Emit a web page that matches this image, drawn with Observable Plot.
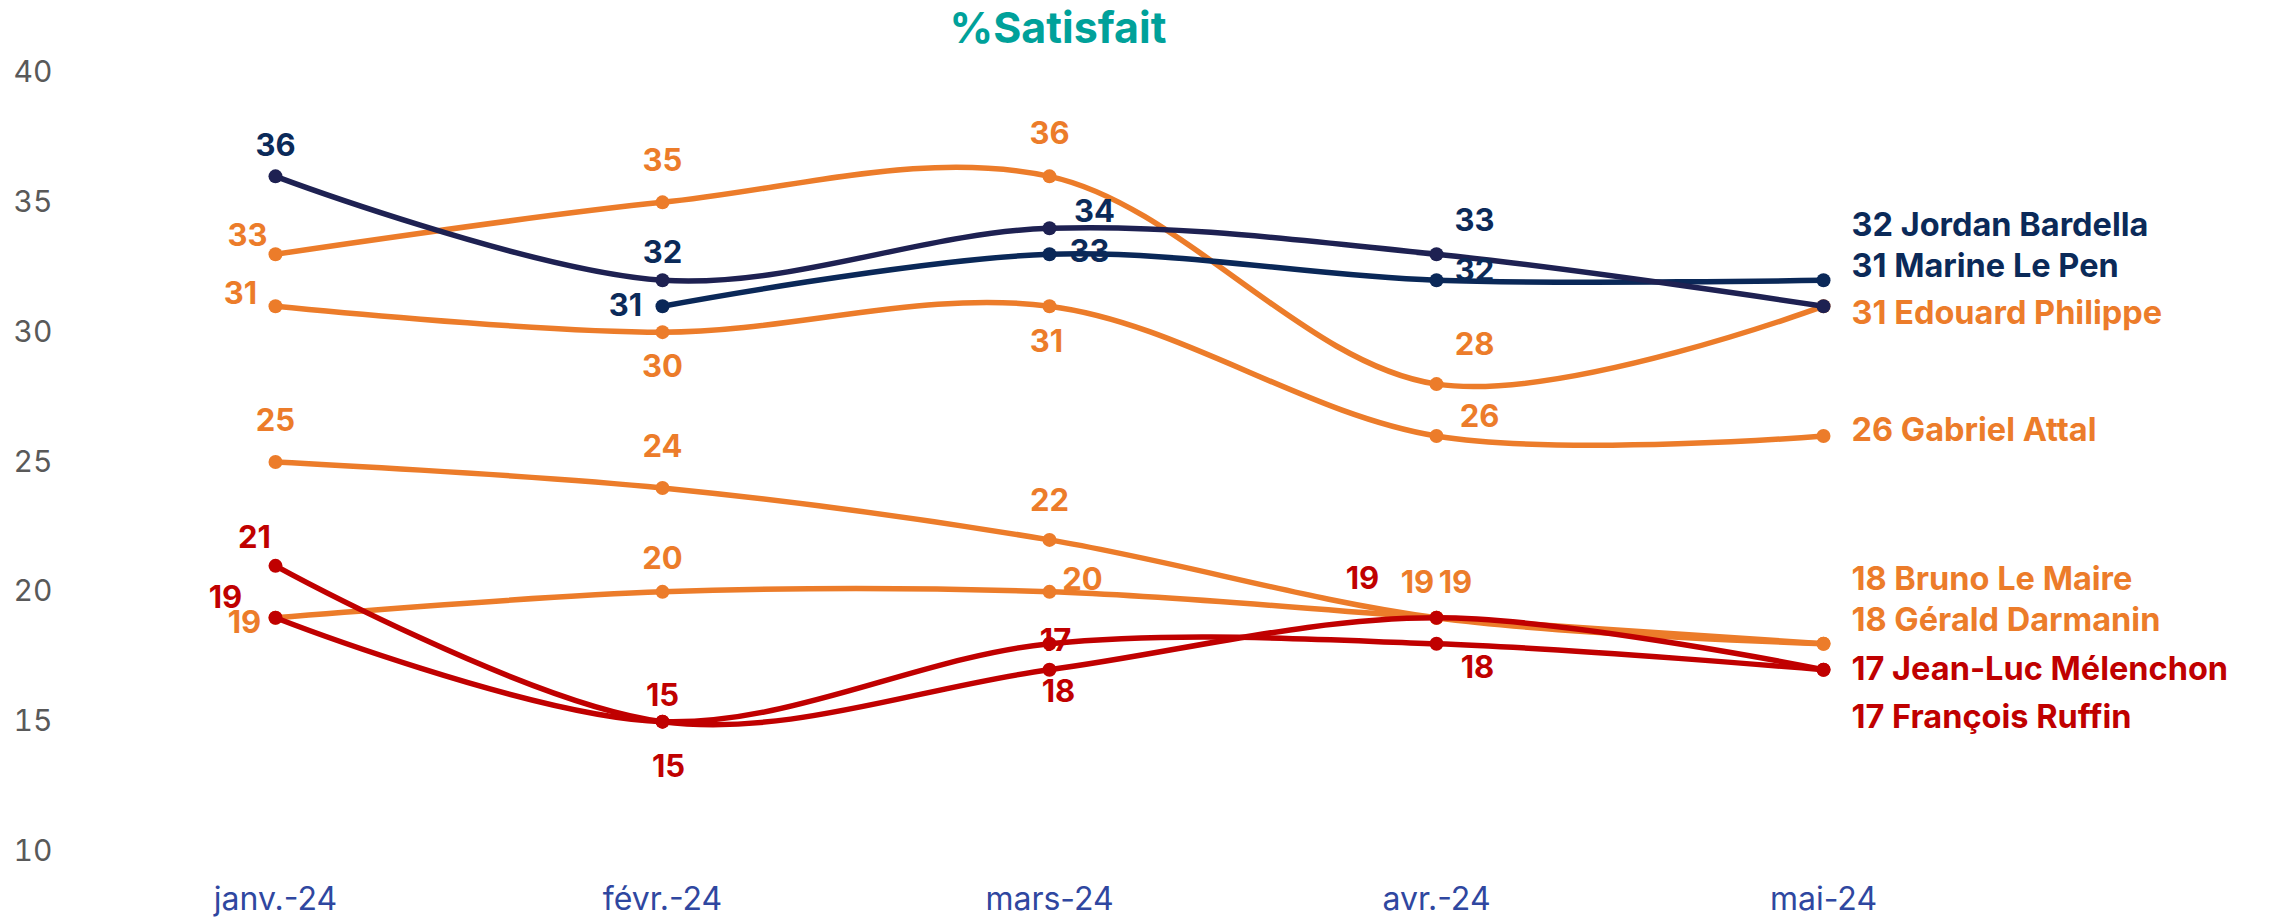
<!DOCTYPE html>
<html><head><meta charset="utf-8">
<script src="https://cdn.jsdelivr.net/npm/d3@7"></script>
<script src="https://cdn.jsdelivr.net/npm/@observablehq/plot@0.6"></script>
<style>
body{margin:0;background:#fff;font-family:Inter,"Liberation Sans",Arial,sans-serif;}
#wrap{position:relative;width:2270px;height:918px;overflow:hidden;}
#title{position:absolute;left:1058px;top:0;transform:translateX(-50%);font-weight:700;font-size:43px;color:#00A19A;line-height:54px;height:52px;white-space:nowrap;}
#chart{position:absolute;left:0;top:52px;}
</style></head><body>
<div id="wrap"><div id="title">%Satisfait</div><div id="chart"></div></div>
<script>
// ---- data ----
const months = ["janv.-24","févr.-24","mars-24","avr.-24","mai-24"];
const names = ["Jordan Bardella","Marine Le Pen","Edouard Philippe","Gabriel Attal","Bruno Le Maire","Gérald Darmanin","Jean-Luc Mélenchon","François Ruffin"];
const bardella  = [null,31,33,32,32];
const lePen     = [36,32,34,33,31];
const philippe  = [33,35,36,28,31];
const attal     = [31,30,31,26,26];
const leMaire   = [25,24,22,19,18];
const darmanin  = [19,20,20,19,18];
const melenchon = [19,15,18,18,17];
const ruffin    = [21,15,17,19,17];
const yTicks = [10,15,20,25,30,35,40];

const seriesValues = [bardella,lePen,philippe,attal,leMaire,darmanin,melenchon,ruffin];

// ---- styles ----
const ORANGE = "#EC7C2A", RED = "#C00000", NAVY_TXT = "#0B2A59";
const style = {
  "Jordan Bardella":   {line:"#0A2858", text:NAVY_TXT, order:2},
  "Marine Le Pen":     {line:"#1E2152", text:NAVY_TXT, order:2},
  "Edouard Philippe":  {line:ORANGE, text:ORANGE, order:1},
  "Gabriel Attal":     {line:ORANGE, text:ORANGE, order:1},
  "Bruno Le Maire":    {line:ORANGE, text:ORANGE, order:1},
  "Gérald Darmanin":   {line:ORANGE, text:ORANGE, order:1},
  "Jean-Luc Mélenchon":{line:RED, text:RED, order:3},
  "François Ruffin":   {line:RED, text:RED, order:3}
};
// label offsets (px) for point labels, per series per month index
const labelOff = {
  "Jordan Bardella":   [null,[-37,0],[40,-2],[38,-9],null],
  "Marine Le Pen":     [[0,-30],[0,-27],[45,-16],[38,-33],null],
  "Edouard Philippe":  [[-28,-18],[0,-41],[0,-42],[38,-39],null],
  "Gabriel Attal":     [[-35,-12],[0,35],[-3,36],[43,-19],null],
  "Bruno Le Maire":    [[0,-41],[0,-41],[0,-39],[-19,-35],null],
  "Gérald Darmanin":   [[-31,5],[0,-33],[33,-12],[19,-35],null],
  "Jean-Luc Mélenchon":[[-50,-20],[6,45],[9,48],[41,24],null],
  "François Ruffin":   [[-21,-28],[0,-26],[6,-29],[-74,-39],null]
};
const endOff = {
  "Jordan Bardella":-55, "Marine Le Pen":-40, "Edouard Philippe":7, "Gabriel Attal":-5,
  "Bruno Le Maire":-64, "Gérald Darmanin":-23, "Jean-Luc Mélenchon":0, "François Ruffin":48
};

const rows = [];
names.forEach((n,i)=>seriesValues[i].forEach((v,j)=>{ if(v!=null) rows.push({name:n, month:months[j], mi:j, value:v}); }));

const order = names.slice().sort((a,b)=>style[a].order-style[b].order);
const marks = [
  Plot.axisY({ticks:yTicks, anchor:"left", tickSize:0, tickPadding:8, fontSize:30, fill:"#595959", color:"#595959", label:null}),
  Plot.axisX({anchor:"bottom", tickSize:0, tickPadding:29, fontSize:32, fill:"#2F47A0", color:"#2F47A0", label:null})
];
for (const n of order) {
  const d = rows.filter(r=>r.name===n);
  marks.push(Plot.line(d, {x:"month", y:"value", stroke:style[n].line, strokeWidth:5.5, curve:"catmull-rom"}));
  marks.push(Plot.dot(d, {x:"month", y:"value", fill:style[n].line, r:7, stroke:"none"}));
}
for (const n of order) {
  const d = rows.filter(r=>r.name===n);
  for (const r of d) {
    const off = labelOff[n][r.mi];
    if (off) marks.push(Plot.text([r], {x:"month", y:"value", text:d=>String(d.value), dx:off[0], dy:off[1], fill:style[n].text, fontSize:31, fontWeight:700}));
  }
  const last = d[d.length-1];
  marks.push(Plot.text([last], {x:"month", y:"value", text:d=>d.value+" "+d.name, dx:28, dy:endOff[n], textAnchor:"start", fill:style[n].text, fontSize:32.5, fontWeight:700}));
}

const chart = Plot.plot({
  width:2270, height:866,
  marginLeft:60, marginBottom:60, marginTop:0, marginRight:0,
  style:{fontFamily:"Inter, 'Liberation Sans', Arial, sans-serif", background:"#fff"},
  x:{type:"point", domain:months, range:[274,1824], padding:0},
  y:{type:"linear", domain:[10,40], range:[799,20]},
  marks
});
document.getElementById("chart").appendChild(chart);
</script>
</body></html>
